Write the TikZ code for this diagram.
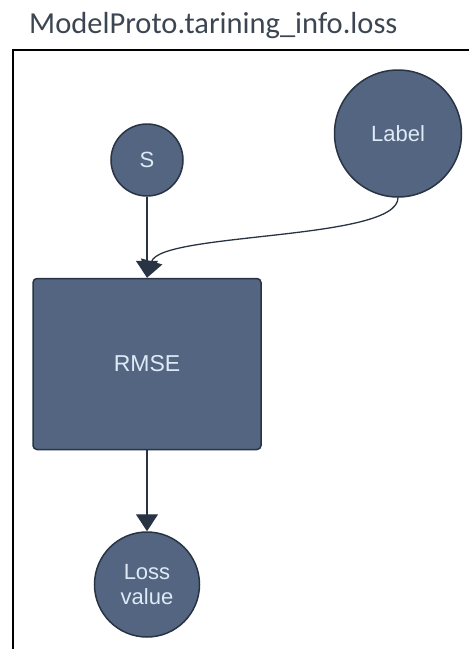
\documentclass[tikz,border=0pt]{standalone}
\usepackage{fontspec}
\setmainfont{Liberation Sans}
\newfontfamily\titlefont{Carlito}
\usetikzlibrary{positioning, arrows.meta}
\definecolor{nodeslate}{RGB}{83,101,128}
\definecolor{nodeedge}{RGB}{40,52,68}
\definecolor{nodetext}{RGB}{222,234,246}
\definecolor{titlegrey}{RGB}{60,70,82}
\tikzset{
>={Triangle[width=22pt,length=17pt]}, % big filled heads as in the sketch
node distance=81pt, % gap between the stacked nodes
every node/.style={inner sep=0pt}, % sizes are set by minimum size
var/.style={circle, draw=nodeedge, line width=1.5pt, fill=nodeslate, text=nodetext, font=\fontsize{22}{25.7}\selectfont, align=center}, % the round nodes
op/.style={rectangle, rounded corners=4pt, draw=nodeedge, line width=1.5pt, fill=nodeslate, text=nodetext, font=\fontsize{23}{27}\selectfont, minimum width=228pt, minimum height=171pt}, % the loss box
link/.style={->, draw=nodeedge, line width=1.3pt}, % the connectors
}

\begin{document}
\begin{tikzpicture}[x=1pt, y=-1pt]
      \useasboundingbox (0,0) rectangle (469,649);
      \node[anchor=base west, text=titlegrey, font=\titlefont\fontsize{30.5}{36}\selectfont] (title) at (29,33) {ModelProto.tarining\_info.loss};
      \draw[line width=1.5pt] (469,50) -| (13,649);

      \node[var, minimum size=72pt] (s) at (147,160) {S};
      \node[var, minimum size=127pt, right=150pt of s, yshift=26.5pt] (label) {Label};
      \node[op, below=of s] (rmse) {RMSE};
      \node[var, minimum size=105pt, below=of rmse] (loss) {Loss\\value};

      \draw[link] (s) -- (rmse);
      \draw[link] (label.south) .. controls +(0,43) and (160,232) .. (rmse.north);
      \draw[link] (rmse) -- (loss);
    \end{tikzpicture}
\end{document}
